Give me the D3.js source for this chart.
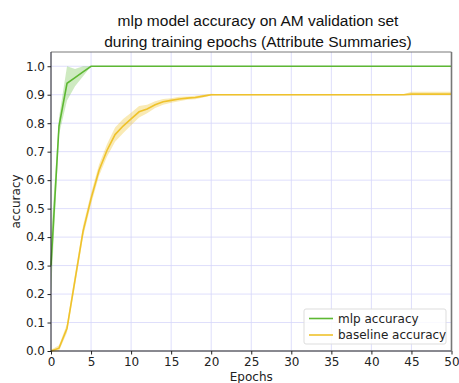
<!DOCTYPE html>
<html>
<head>
<meta charset="utf-8">
<script src="https://cdn.jsdelivr.net/npm/d3@7"></script>
<style>
  body { margin: 0; background: #fff; }
  svg { display: block; }
  .tick text { font-family: "DejaVu Sans", sans-serif; font-size: 12px; fill: #222; }
  .title { font-family: "Liberation Sans", Arial, sans-serif; font-size: 15.5px; fill: #111; }
  .lbl { font-family: "DejaVu Sans", sans-serif; font-size: 12px; fill: #222; }
</style>
</head>
<body>
<div id="chart"></div>
<script>
// --- data ---
const epochs = d3.range(0, 51);

// mlp accuracy (mean, lower, upper) for first epochs, then flat at 1.0
const mlpHead = [0.30, 0.79, 0.94, 0.96, 0.98, 1.0];
const mlpLowHead = [0.20, 0.76, 0.88, 0.93, 0.965, 1.0];
const mlpHighHead = [0.40, 0.82, 1.0, 0.99, 1.0, 1.0];

const baseHead = [0.0, 0.01, 0.08, 0.25, 0.42, 0.535, 0.635, 0.705, 0.76, 0.79, 0.815, 0.84, 0.85, 0.865, 0.875, 0.88, 0.885, 0.888, 0.89, 0.895, 0.9];
const baseBand = [0.004, 0.01, 0.015, 0.02, 0.02, 0.02, 0.02, 0.022, 0.025, 0.025, 0.022, 0.02, 0.015, 0.012, 0.01, 0.008, 0.008, 0.006, 0.006, 0.005, 0.003];

const mlpMean = epochs.map(e => e < mlpHead.length ? mlpHead[e] : 1.0);
const mlpLow = epochs.map(e => e < mlpLowHead.length ? mlpLowHead[e] : 1.0);
const mlpHigh = epochs.map(e => e < mlpHighHead.length ? mlpHighHead[e] : 1.0);
const baseMean = epochs.map(e => e < baseHead.length ? baseHead[e] : (e >= 45 ? 0.902 : 0.9));
const baseLow = epochs.map(e => e < baseHead.length ? baseHead[e] - baseBand[e] : 0.898);
const baseHigh = epochs.map(e => e < baseHead.length ? baseHead[e] + baseBand[e] : (e >= 45 ? 0.91 : 0.902));

const xTicks = d3.range(0, 51, 5);
const yTicks = d3.range(0, 11).map(d => d / 10);

const titleLines = ["mlp model accuracy on AM validation set", "during training epochs (Attribute Summaries)"];

// --- sizing ---
const W = 459, H = 383;
const margin = { top: 52, left: 51, right: 8, bottom: 32 };
const w = 451.5 - margin.left;
const h = 351 - margin.top;

const svg = d3.select("#chart").append("svg")
  .attr("width", W).attr("height", H);

const x = d3.scaleLinear().domain([0, 50]).range([margin.left, margin.left + w]);
const y = d3.scaleLinear().domain([0, 1.05]).range([351, margin.top]);

const green = "#5db832", yellow = "#efc22b";

// grid
const grid = svg.append("g");
grid.selectAll(".gx").data(xTicks).enter().append("line")
  .attr("x1", d => x(d)).attr("x2", d => x(d))
  .attr("y1", y(0)).attr("y2", y(1.05))
  .attr("stroke", "#d6d6fa").attr("stroke-width", 0.8);
grid.selectAll(".gy").data(yTicks).enter().append("line")
  .attr("x1", x(0)).attr("x2", x(50))
  .attr("y1", d => y(d)).attr("y2", d => y(d))
  .attr("stroke", "#d6d6fa").attr("stroke-width", 0.8);

// bands
const area = (lo, hi) => d3.area()
  .x((d, i) => x(epochs[i]))
  .y0((d, i) => y(lo[i]))
  .y1((d, i) => y(hi[i]));
const line = vals => d3.line()
  .x((d, i) => x(epochs[i]))
  .y((d, i) => y(vals[i]));

svg.append("path").attr("d", area(baseLow, baseHigh)(epochs))
  .attr("fill", yellow).attr("fill-opacity", 0.35);
svg.append("path").attr("d", area(mlpLow, mlpHigh)(epochs))
  .attr("fill", green).attr("fill-opacity", 0.3);

svg.append("path").attr("d", line(baseMean)(epochs))
  .attr("fill", "none").attr("stroke", yellow).attr("stroke-width", 1.6);
svg.append("path").attr("d", line(mlpMean)(epochs))
  .attr("fill", "none").attr("stroke", green).attr("stroke-width", 1.6);

// axes
const xAxis = d3.axisBottom(x).tickValues(xTicks).tickSize(3.5).tickFormat(d3.format("d"));
const yAxis = d3.axisLeft(y).tickValues(yTicks).tickSize(3.5).tickFormat(d3.format(".1f"));

svg.append("g").attr("transform", `translate(0,${y(0)})`).call(xAxis)
  .call(g => g.select(".domain").remove())
  .call(g => g.selectAll(".tick line").attr("stroke", "#222"))
  .call(g => g.selectAll(".tick text").attr("dy", "0.9em").attr("y", 4));
svg.append("g").attr("transform", `translate(${x(0)},0)`).call(yAxis)
  .call(g => g.select(".domain").remove())
  .call(g => g.selectAll(".tick line").attr("stroke", "#222"))
  .call(g => g.selectAll(".tick text").attr("x", -6));

// spines
svg.append("line").attr("x1", x(0)).attr("x2", x(0)).attr("y1", y(0)).attr("y2", y(1.05)).attr("stroke", "#222").attr("stroke-width", 1);
svg.append("line").attr("x1", x(0)).attr("x2", x(50)).attr("y1", y(0)).attr("y2", y(0)).attr("stroke", "#222").attr("stroke-width", 1);
svg.append("line").attr("x1", x(0)).attr("x2", x(50)).attr("y1", y(1.05)).attr("y2", y(1.05)).attr("stroke", "#555").attr("stroke-width", 0.8);
svg.append("line").attr("x1", x(50)).attr("x2", x(50)).attr("y1", y(0)).attr("y2", y(1.05)).attr("stroke", "#777").attr("stroke-width", 1.6);

// title
svg.append("text").attr("class", "title").attr("text-anchor", "middle")
  .selectAll("tspan").data(titleLines).enter().append("tspan")
  .attr("x", 258).attr("y", (d, i) => 26 + i * 21).text(d => d);

// axis labels
svg.append("text").attr("class", "lbl").attr("text-anchor", "middle")
  .attr("x", x(25)).attr("y", 381).text("Epochs");
svg.append("text").attr("class", "lbl").attr("text-anchor", "middle")
  .attr("transform", `translate(20,${(y(0) + y(1.05)) / 2}) rotate(-90)`).text("accuracy");

// legend
const legendItems = [
  { name: "mlp accuracy", color: green },
  { name: "baseline accuracy", color: yellow }
];
const lg = svg.append("g").attr("transform", "translate(304,309)");
lg.append("rect").attr("width", 142).attr("height", 35).attr("rx", 2)
  .attr("fill", "#fff").attr("fill-opacity", 0.85).attr("stroke", "#ddd");
const li = lg.selectAll(".li").data(legendItems).enter().append("g")
  .attr("transform", (d, i) => `translate(0,${9.5 + i * 16.5})`);
li.append("line").attr("x1", 5).attr("x2", 29).attr("stroke", d => d.color).attr("stroke-width", 1.6);
li.append("text").attr("class", "lbl").attr("x", 34).attr("dy", "0.35em").text(d => d.name);
</script>
</body>
</html>
